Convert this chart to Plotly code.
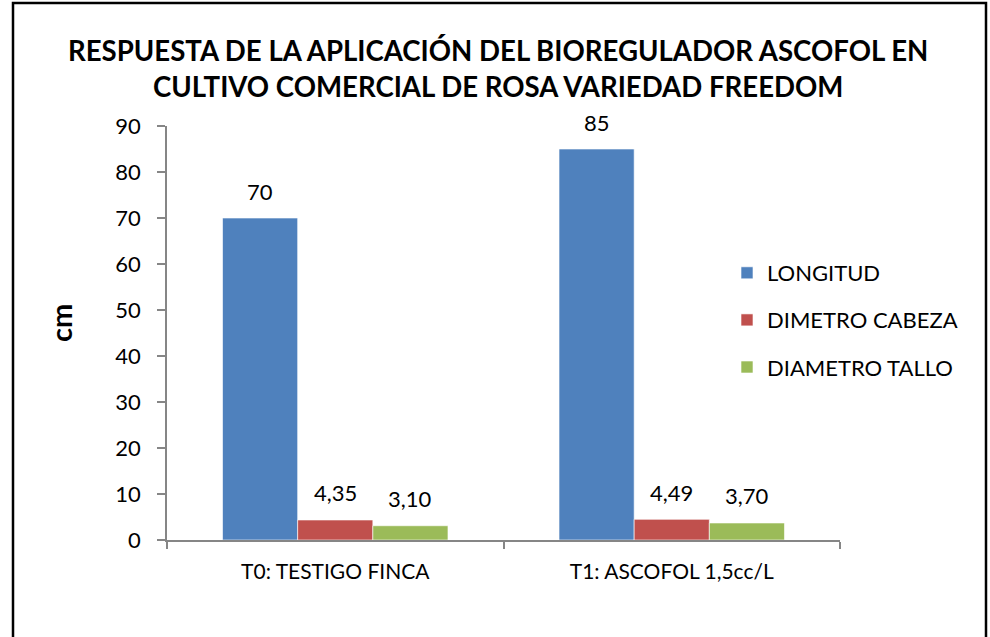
import plotly.graph_objects as go

categories = ["T0: TESTIGO FINCA", "T1: ASCOFOL 1,5cc/L"]
series_names = ["LONGITUD", "DIMETRO CABEZA", "DIAMETRO TALLO"]
longitud = [70, 85]
dimetro_cabeza = [4.35, 4.49]
diametro_tallo = [3.10, 3.70]
series_values = [longitud, dimetro_cabeza, diametro_tallo]
series_decimals = [0, 2, 2]
series_colors = ["#4F81BD", "#C0504D", "#9BBB59"]
y_ticks = [0, 10, 20, 30, 40, 50, 60, 70, 80, 90]

title_lines = ["RESPUESTA DE LA APLICACIÓN DEL BIOREGULADOR ASCOFOL EN",
               "CULTIVO COMERCIAL DE ROSA VARIEDAD FREEDOM"]

FONT = "Lato"
W, H = 990, 637
L, R, T, B = 167, 150, 126, 97
PW, PH = W - L - R, H - T - B
BARGAP = 0.33


def px_x(x):
    return (x - L) / PW


def px_y(y):
    return (H - B - y) / PH


def fmt(v, d):
    return f"{v:.{d}f}".replace(".", ",")


fig = go.Figure()
for i, (name, vals, col) in enumerate(zip(series_names, series_values, series_colors)):
    fig.add_trace(go.Bar(
        x=categories, y=vals, name=name, legendgroup=name,
        marker=dict(color=col, line=dict(color="rgba(255,255,255,0.6)", width=1)),
        hoverinfo="skip",
    ))

# data labels placed above each bar
n = len(series_names)
bw = (1 - BARGAP) / n
annotations = []
for i, (vals, d) in enumerate(zip(series_values, series_decimals)):
    off = (i - (n - 1) / 2) * bw
    for ci, v in enumerate(vals):
        annotations.append(dict(
            x=ci + off, y=v, xref="x", yref="y", text=fmt(v, d),
            showarrow=False, xanchor="center", yanchor="middle", yshift=27,
            font=dict(family=FONT, size=22, color="#000000"),
        ))

annotations.append(dict(x=px_x(498), y=px_y(50), xref="paper", yref="paper",
                        xanchor="center", yanchor="middle",
                        text="<b>" + title_lines[0] + "</b>", showarrow=False,
                        font=dict(family=FONT, size=27.6, color="#000000")))
annotations.append(dict(x=px_x(498), y=px_y(86), xref="paper", yref="paper",
                        xanchor="center", yanchor="middle",
                        text="<b>" + title_lines[1] + "</b>", showarrow=False,
                        font=dict(family=FONT, size=27.6, color="#000000")))
annotations.append(dict(x=px_x(60), y=px_y(323), xref="paper", yref="paper",
                        xanchor="center", yanchor="middle",
                        text="<b>cm</b>", textangle=-90, showarrow=False,
                        font=dict(family=FONT, size=29, color="#000000")))

fig.update_layout(
    width=W, height=H,
    margin=dict(l=L, r=R, t=T, b=B, pad=0),
    paper_bgcolor="white", plot_bgcolor="white",
    barmode="group", bargap=BARGAP, bargroupgap=0,
    showlegend=True,
    legend=dict(x=px_x(727), y=px_y(252), xanchor="left", yanchor="top",
                traceorder="grouped", tracegroupgap=15.5,
                font=dict(family=FONT, size=22, color="#000000"),
                bgcolor="rgba(0,0,0,0)"),
    font=dict(family=FONT, color="#000000"),
    annotations=annotations,
    hovermode=False,
    shapes=[dict(type="rect", xref="paper", yref="paper",
                 x0=px_x(13), x1=px_x(986), y0=px_y(650), y1=px_y(3),
                 line=dict(color="#000000", width=2.5), fillcolor="rgba(0,0,0,0)",
                 layer="below")],
)

fig.update_xaxes(
    showline=True, linecolor="#868686", linewidth=1.5,
    ticks="outside", ticklen=7, tickcolor="#868686", tickwidth=1.5,
    tickson="boundaries", ticklabelstandoff=12,
    tickfont=dict(family=FONT, size=21, color="#000000"),
    showgrid=False, zeroline=False,
)
fig.update_yaxes(
    range=[0, 90], tickvals=y_ticks, ticktext=[str(t) for t in y_ticks],
    showline=True, linecolor="#868686", linewidth=1.5,
    ticks="outside", ticklen=8, tickcolor="#868686", tickwidth=1.5,
    ticklabelstandoff=12,
    tickfont=dict(family=FONT, size=22, color="#000000"),
    showgrid=False, zeroline=False,
)

fig.write_html("out.html", config={"displayModeBar": False},
               post_script="document.body.style.margin='0';document.body.style.overflow='hidden';")
